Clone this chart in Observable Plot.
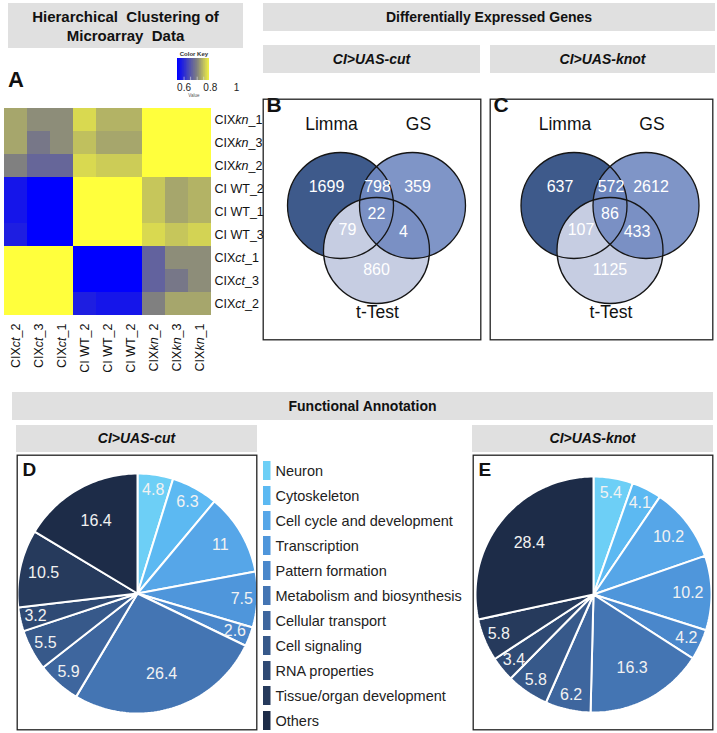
<!DOCTYPE html>
<html><head><meta charset="utf-8">
<script src="https://cdn.jsdelivr.net/npm/d3@7"></script>
<script src="https://cdn.jsdelivr.net/npm/@observablehq/plot@0.6"></script>
<style>
body{margin:0;background:#fff;font-family:"Liberation Sans",Arial,sans-serif;}
#fig{position:relative;width:717px;height:733px;overflow:hidden;background:#fff;}
.box{position:absolute;background:#e0e0e0;display:flex;align-items:center;justify-content:center;text-align:center;font-weight:bold;color:#111;line-height:19px;}
.it{font-style:italic;}
.letter{position:absolute;font-weight:bold;font-size:22px;line-height:1;color:#111;}
</style></head><body><div id="fig"></div>
<script>
// ---------------- data ----------------
const heatRows = ["CIXkn_1","CIXkn_3","CIXkn_2","CI WT_2","CI WT_1","CI WT_3","CIXct_1","CIXct_3","CIXct_2"];
const heatCols = ["CIXct_2","CIXct_3","CIXct_1","CI WT_2","CI WT_2","CI WT_2","CIXkn_2","CIXkn_3","CIXkn_1"];
const heatValues = [
  [0.73, 0.71, 0.71, 0.77, 0.74, 0.74, 1, 1, 1],
  [0.73, 0.69, 0.71, 0.75, 0.73, 0.73, 1, 1, 1],
  [0.70, 0.67, 0.67, 0.77, 0.76, 0.76, 1, 1, 1],
  [0.575, 0.55, 0.55, 1, 1, 1, 0.755, 0.73, 0.74],
  [0.575, 0.55, 0.55, 1, 1, 1, 0.755, 0.73, 0.74],
  [0.585, 0.55, 0.55, 1, 1, 1, 0.77, 0.755, 0.765],
  [1, 1, 1, 0.55, 0.55, 0.55, 0.665, 0.71, 0.71],
  [1, 1, 1, 0.55, 0.55, 0.55, 0.665, 0.69, 0.71],
  [1, 1, 1, 0.585, 0.575, 0.575, 0.70, 0.73, 0.73]
];
const keyTicks = [0.6, 0.8, 1];

const vennSets = ["Limma", "GS", "t-Test"];
const vennRegions = ["Limma", "Limma+GS", "GS", "all", "Limma+t", "GS+t", "t"];
const vennCut = [1699, 798, 359, 22, 79, 4, 860];
const vennKnot = [637, 572, 2612, 86, 107, 433, 1125];

const categories = ["Neuron","Cytoskeleton","Cell cycle and development","Transcription","Pattern formation","Metabolism and biosynthesis","Cellular transport","Cell signaling","RNA properties","Tissue/organ development","Others"];
const pieCut  = [4.8, 6.3, 11, 7.5, 2.6, 26.4, 5.9, 5.5, 3.2, 10.5, 16.4];
const pieKnot = [5.4, 4.1, 10.2, 10.2, 4.2, 16.3, 6.2, 5.8, 3.4, 5.8, 28.4];

// ---------------- styles / layout ----------------
const FONT = '"Liberation Sans", Arial, sans-serif';
const heatColor = {type:"linear", domain:[0.55,0.7,0.8], range:["#0000ff","#808080","#ffff3c"], clamp:true, interpolate:"rgb"};
const pieColors = ["#6dcff6","#5cb9f2","#56a6e8","#4f96db","#4a87cb","#4475b3","#3e669e","#37598a","#2f4a74","#263a5c","#1d2c48"];
const vennColors = ["#3e5a8b","#7189c1","#c6cde2"];
const vennCenter = {"Limma":{x:-36,y:0,lx:-45,ly:-81}, "GS":{x:36,y:0,lx:42,ly:-81}, "t-Test":{x:0,y:45,lx:1,ly:107}};
const vennLabelPos = {"Limma":{x:-50,y:-19},"Limma+GS":{x:1,y:-19},"GS":{x:41,y:-19},"all":{x:0,y:8},"Limma+t":{x:-29,y:24},"GS+t":{x:27,y:26},"t":{x:0,y:64}};

const fig = document.getElementById("fig");
function place(el, left, top){ el.style.position="absolute"; el.style.left=left+"px"; el.style.top=top+"px"; fig.appendChild(el); return el; }
function box(html, left, top, w, h, size, extra){
  const d=document.createElement("div"); d.className="box"+(extra?" "+extra:"");
  d.innerHTML=html; d.style.width=w+"px"; d.style.height=h+"px"; d.style.fontSize=size+"px";
  return place(d,left,top);
}
function letter(t, left, top, size){
  const d=document.createElement("div"); d.className="letter"; d.textContent=t; d.style.fontSize=size+"px"; return place(d,left,top);
}

// header boxes
box("Hierarchical&nbsp; Clustering of<br>Microarray&nbsp; Data", 8, 3, 235, 45, 15);
box("Differentially Expressed Genes", 263, 3, 452, 28, 14);
box("CI&gt;UAS-cut", 263, 45, 217, 28, 14, "it");
box("CI&gt;UAS-knot", 490, 45, 225, 28, 14, "it");
box("Functional Annotation", 12, 392, 701, 28, 14);
box("CI&gt;UAS-cut", 16, 425, 241, 27, 14, "it");
box("CI&gt;UAS-knot", 472, 425, 241, 27, 14, "it");
letter("A", 8, 69, 22);

// ---------------- heatmap ----------------
const cells = [];
heatValues.forEach((row,i)=>row.forEach((v,j)=>cells.push({r:i,c:j,v})));
const heat = Plot.plot({
  width: 262, height: 270,
  marginTop: 0, marginLeft: 2, marginRight: 50, marginBottom: 57,
  x: {type:"band", domain:d3.range(heatCols.length), padding:0, axis:"bottom", tickSize:0, tickRotate:-90, tickPadding:5, tickFormat:i=>heatCols[i], label:null},
  y: {type:"band", domain:d3.range(heatRows.length), padding:0, axis:"right", tickSize:0, tickPadding:2, tickFormat:i=>heatRows[i], label:null},
  color: heatColor,
  style: {fontFamily:FONT, fontSize:"12.5px", color:"#111", background:"transparent", overflow:"visible"},
  marks: [Plot.cell(cells, {x:"c", y:"r", fill:"v", shapeRendering:"crispEdges"})]
});
heat.querySelectorAll("text").forEach(t=>{
  const m = t.textContent.match(/^CIX(kn|ct)(_\d)$/);
  if(m){
    t.textContent="";
    const ns="http://www.w3.org/2000/svg";
    const a=document.createElementNS(ns,"tspan"); a.textContent="CIX";
    const b=document.createElementNS(ns,"tspan"); b.textContent=m[1]; b.setAttribute("font-style","italic");
    const c=document.createElementNS(ns,"tspan"); c.textContent=m[2];
    t.append(a,b,c);
  }
});
place(heat, 0, 105);

// color key
const keySteps = d3.range(0.55, 0.79, 0.005);
const key = Plot.plot({
  width: 80, height: 54, margin: 0,
  x: {domain:[0.55,1], range:[7,66], axis:null},
  y: {domain:[0,1], range:[35,13], axis:null},
  color: heatColor,
  style: {fontFamily:FONT, background:"transparent", overflow:"visible"},
  marks: [
    Plot.rect(keySteps, {x1:d=>d, x2:d=>d+0.009, y1:()=>0, y2:()=>1, fill:d=>d, shapeRendering:"crispEdges"}),
    Plot.ruleX([0.6,0.65,0.7,0.75], {x:d=>d, y1:()=>0, y2:()=>0.15, stroke:"#e8e8e8", strokeWidth:0.6}),
    Plot.text(keyTicks, {x:d=>d, y:()=>-0.35, text:d=>String(d), fontSize:10, fill:"#222"}),
    Plot.text(["Color Key"], {x:()=>0.675, y:()=>1.22, text:d=>d, fontSize:6, fontWeight:"bold", fill:"#333"}),
    Plot.text(["Value"], {x:()=>0.675, y:()=>-0.7, text:d=>d, fontSize:4.5, fill:"#555"})
  ]
});
place(key, 170, 45);

// ---------------- venn diagrams ----------------
function vennPlot(counts, w, xOff, lab){
  const circ = vennSets.map(s=>({set:s, ...vennCenter[s]}));
  const regions = vennRegions.map((r,i)=>({region:r, n:counts[i], ...vennLabelPos[r]}));
  return Plot.plot({
    width:w, height:242, margin:0,
    x:{domain:[-xOff, w-xOff], range:[0,w], axis:null},
    y:{domain:[-107,135], range:[0,242], axis:null},
    color:{type:"ordinal", domain:vennSets, range:vennColors},
    style:{fontFamily:FONT, background:"transparent", overflow:"visible"},
    marks:[
      Plot.dot(circ.filter(d=>d.set!=="GS"), {x:"x", y:"y", r:53, fill:"set", stroke:"none"}),
      Plot.dot(circ.filter(d=>d.set==="GS"), {x:"x", y:"y", r:53, fill:"set", fillOpacity:0.9, stroke:"none"}),
      Plot.dot(circ, {x:"x", y:"y", r:53, fill:"none", stroke:"#151515", strokeWidth:1.3}),
      Plot.text(regions, {x:"x", y:"y", text:d=>String(d.n), fill:"#ffffff", fontSize:16}),
      Plot.text(circ, {x:"lx", y:"ly", text:"set", fill:"#111", fontSize:17.5}),
      Plot.text([lab], {frameAnchor:"top-left", dx:4, dy:-1, fontSize:21, fontWeight:"bold", fill:"#111"}),
      Plot.frame({stroke:"#222", strokeWidth:1.3, inset:0.7})
    ]
  });
}
place(vennPlot(vennCut, 219, 114, "B"), 262, 98);
place(vennPlot(vennKnot, 224, 120.5, "C"), 489, 98);

// ---------------- pies ----------------
function piePlot(values, lab, cx, cy, R){
  const w=241, h=276;
  const total = d3.sum(values);
  let cum=0; const pts=[], labels=[];
  values.forEach((v,i)=>{
    const s=cum/total, e=(cum+v)/total; cum+=v;
    const cat=categories[i];
    pts.push({cat, x:0, y:0});
    const n=Math.max(2, Math.ceil((e-s)*240));
    for(let k=0;k<=n;k++){ const a=2*Math.PI*(s+(e-s)*k/n); pts.push({cat, x:Math.sin(a), y:Math.cos(a)}); }
    const m=Math.PI*(s+e);
    const rr = v>=15 ? 0.7 : v>=10 ? 0.8 : 0.87;
    labels.push({v, x:rr*Math.sin(m), y:rr*Math.cos(m)});
  });
  return Plot.plot({
    width:w, height:h, margin:0,
    x:{domain:[-1,1], range:[cx-R, cx+R], axis:null},
    y:{domain:[-1,1], range:[cy+R, cy-R], axis:null},
    color:{type:"ordinal", domain:categories, range:pieColors},
    style:{fontFamily:FONT, background:"transparent", overflow:"visible"},
    marks:[
      Plot.line(pts, {x:"x", y:"y", z:"cat", fill:"cat", stroke:"#ffffff", strokeWidth:2, strokeLinejoin:"round", curve:"linear-closed"}),
      Plot.text(labels, {x:"x", y:"y", text:d=>String(d.v), fill:"#f2f2f2", fontSize:16}),
      Plot.text([lab], {frameAnchor:"top-left", dx:6, dy:8, fontSize:19, fontWeight:"bold", fill:"#111"}),
      Plot.frame({stroke:"#222", strokeWidth:1.3, inset:0.7})
    ]
  });
}
place(piePlot(pieCut, "D", 121, 139, 120), 16, 454);
place(piePlot(pieKnot, "E", 121, 140, 118), 472, 454);

// ---------------- legend ----------------
const legend = Plot.plot({
  width:215, height:278, margin:0,
  x:{domain:[0,215], range:[0,215], axis:null},
  y:{type:"band", domain:categories, range:[0,277], padding:0, axis:null},
  color:{type:"ordinal", domain:categories, range:pieColors},
  style:{fontFamily:FONT, background:"transparent", overflow:"visible"},
  marks:[
    Plot.barX(categories, {x1:()=>1, x2:()=>8.5, y:d=>d, fill:d=>d, insetTop:3, insetBottom:3}),
    Plot.text(categories, {x:()=>13, y:d=>d, text:d=>d, textAnchor:"start", fontSize:14.5, fill:"#222"})
  ]
});
place(legend, 262, 457);
</script></body></html>
